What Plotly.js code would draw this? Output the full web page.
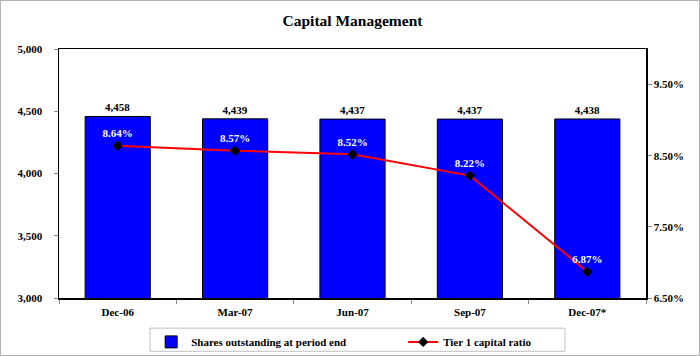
<!DOCTYPE html>
<html><head><meta charset="utf-8">
<script src="https://cdn.plot.ly/plotly-3.0.1.min.js"></script>
<style>
html,body{margin:0;padding:0;background:#fff;}
#chart{width:698px;height:354px;border:1px solid #b4b4b4;}
</style></head>
<body><div id="chart"></div>
<script>
const categories = ["Dec-06","Mar-07","Jun-07","Sep-07","Dec-07*"];
const shares = [4458,4439,4437,4437,4438];
const tier1 = [8.64,8.57,8.52,8.22,6.87];
const leftTicks = [3000,3500,4000,4500,5000];
const rightTicks = [6.5,7.5,8.5,9.5];

const font = {family:"Liberation Serif, Times New Roman, serif", color:"#000", size:11};

const bars = {
  type:"bar", x:categories, y:shares, name:"Shares outstanding at period end",
  marker:{color:"#0000ff", line:{color:"#000", width:1}},
  text:shares.map(v=>v.toLocaleString("en-US")), textposition:"outside",
  textfont:{family:font.family, size:11, color:"#000", weight:"bold"},
  cliponaxis:false, hoverinfo:"x+y"
};
const line = {
  type:"scatter", mode:"lines+markers+text", x:categories, y:tier1, yaxis:"y2",
  name:"Tier 1 capital ratio",
  line:{color:"#ff0000", width:2},
  marker:{symbol:"diamond", color:"#000", size:8},
  text:tier1.map(v=>v.toFixed(2)+"%"), textposition:"top center",
  textfont:{family:font.family, size:11, color:"#fff", weight:"bold"},
  cliponaxis:false
};

const layout = {
  width:698, height:354,
  margin:{l:58, r:53, t:48, b:57, autoexpand:false},
  paper_bgcolor:"#fff", plot_bgcolor:"#fff",
  font:font,
  title:{text:"<b>Capital Management</b>", x:0.5, xref:"paper", y:0.945, yanchor:"middle",
    font:{family:font.family, size:15.5, color:"#000"}},
  bargap:0.445,
  showlegend:true,
  legend:{orientation:"h", x:0.157, xanchor:"left", yref:"container", y:0.078, yanchor:"top",
    borderwidth:0, bgcolor:"rgba(0,0,0,0)",
    font:{family:font.family, size:11, color:"#000", weight:"bold"},
    entrywidth:207, entrywidthmode:"pixels", traceorder:"normal"},
  shapes:[{type:"rect", xref:"paper", yref:"paper", x0:0.155, x1:0.862, y0:-0.121, y1:-0.214,
    line:{color:"#c0c0c0", width:1}, fillcolor:"rgba(0,0,0,0)", layer:"below"}],
  xaxis:{type:"category", showline:true, linecolor:"#000", linewidth:1.5, mirror:true,
    ticks:"outside", tickson:"boundaries", ticklen:4, tickcolor:"#888",
    ticklabelstandoff:3,
    tickfont:{family:font.family, size:11, color:"#000", weight:"bold"},
    showgrid:false, zeroline:false, fixedrange:true},
  yaxis:{range:[3000,5000], tickvals:leftTicks, ticktext:leftTicks.map(v=>v.toLocaleString("en-US")),
    showline:true, linecolor:"#000", linewidth:1.5, ticks:"outside", ticklen:4, tickcolor:"#888",
    ticklabelstandoff:9,
    tickfont:{family:font.family, size:11, color:"#000", weight:"bold"},
    showgrid:false, zeroline:false},
  yaxis2:{range:[6.5,10.0], overlaying:"y", side:"right", tickvals:rightTicks,
    ticktext:rightTicks.map(v=>v.toFixed(2)+"%"),
    showline:true, linecolor:"#000", linewidth:1.5, ticks:"outside", ticklen:4, tickcolor:"#888",
    tickfont:{family:font.family, size:11, color:"#000", weight:"bold"},
    showgrid:false, zeroline:false}
};
Plotly.newPlot("chart",[bars,line],layout,{displayModeBar:false, staticPlot:true});
</script></body></html>
